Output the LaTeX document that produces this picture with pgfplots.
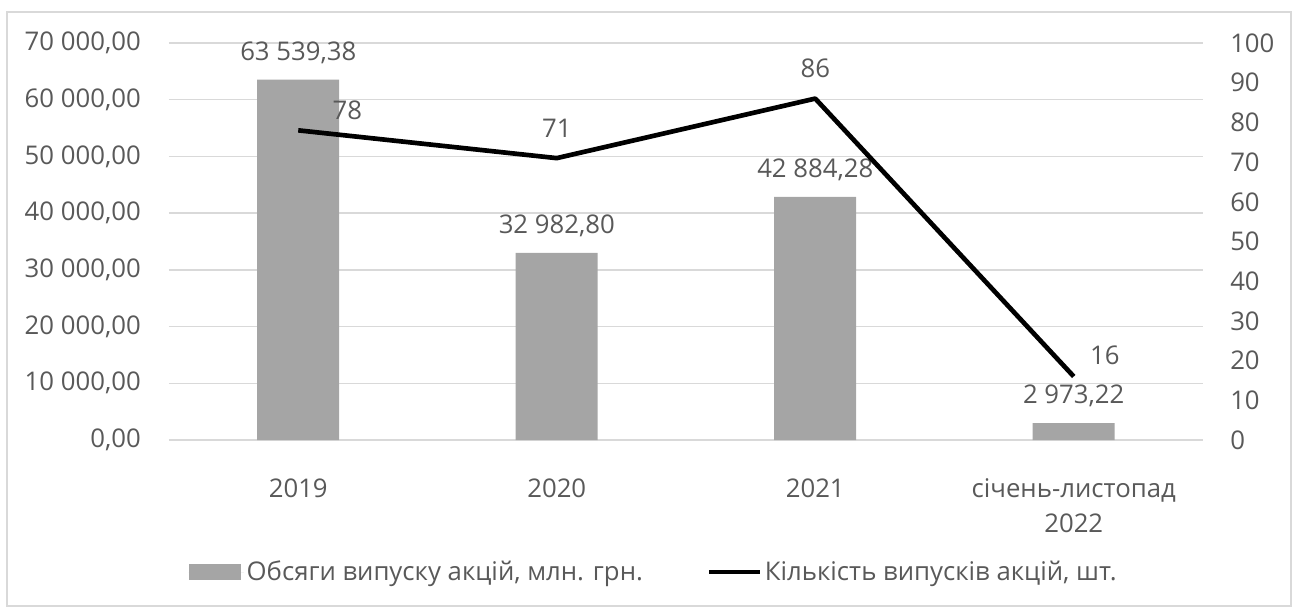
\documentclass[border=0pt]{standalone}
\usepackage{fontspec}
\setmainfont{Open Sans}
\usepackage{pgfplots}
\pgfplotsset{compat=1.18}
\definecolor{bargray}{HTML}{A5A5A5}
\definecolor{gridgray}{HTML}{D9D9D9}
\definecolor{txt}{HTML}{595959}
\newcommand\fs{\fontsize{19.3}{26.25}\selectfont}

% shared frame: 1 px of the reference = 0.75pt
\pgfplotsset{
  common/.style={
    width=775.5pt, height=297.75pt, scale only axis,
    xmin=-0.5, xmax=3.5, enlarge x limits=false,
    axis line style={draw=none},
    major tick style={draw=none}, minor tick style={draw=none},
    tick label style={font=\fs, text=txt, inner sep=0pt},
    /pgf/number format/assume math mode=true,
  },
}

\begin{document}
\begin{tikzpicture}[font=\fs]
\useasboundingbox (-126.75pt,-126pt) rectangle (846pt,330pt);

\begin{axis}[common,
    ymin=0, ymax=70000, ytick distance=10000, scaled y ticks=false,
    ymajorgrids, grid style={gridgray, line width=1pt},
    yticklabel style={
      /pgf/number format/fixed, /pgf/number format/fixed zerofill,
      /pgf/number format/precision=2, /pgf/number format/use comma,
      /pgf/number format/1000 sep={\ },
      anchor=east, xshift=-21pt},
    xtick={0,1,2,3},
    xticklabels={\strut 2019, \strut 2020, \strut 2021, {\strut січень-листопад\\2022}},
    xticklabel style={anchor=north, yshift=-20pt, align=center},
    ybar, bar width=61.5pt,
    nodes near coords={\pgfmathprintnumber[fixed,fixed zerofill,precision=2,use comma,1000 sep={\ },assume math mode=true]{\pgfplotspointmeta}},
    nodes near coords style={anchor=south, inner sep=0pt, yshift=12pt, text=txt, font=\fs},
    legend columns=2,
    legend style={at={(axis description cs:0.469,-0.3325)}, anchor=center,
      draw=none, fill=none, font=\fs, text=txt,
      /tikz/every even column/.append style={column sep=46pt}},
]
\addplot[fill=bargray, draw=none,
  legend image code/.code={\fill[bargray] (0pt,-6pt) rectangle (39pt,6pt); \path (0pt,0pt) -- (41.5pt,0pt);}]
  coordinates {(0,63539.38) (1,32982.80) (2,42884.28) (3,2973.22)};
\addlegendentry{Обсяги випуску акцій, млн. грн.}
\addlegendimage{legend image code/.code={\draw[black, line width=3.5pt] (0pt,0pt) -- (38pt,0pt);}}
\addlegendentry{Кількість випусків акцій, шт.}
\end{axis}

\begin{axis}[common,
    axis y line*=right, axis x line=none,
    ymin=0, ymax=100, ytick distance=10,
    yticklabel style={anchor=west, xshift=20.25pt},
    nodes near coords style={text=txt, font=\fs, anchor=center},
]
\addplot[black, line width=3.5pt, line join=round, mark=none]
  coordinates {(0,78) (1,71) (2,86) (3,16)};
% data labels of the line
\addplot[draw=none, mark=none, nodes near coords,
  nodes near coords style={xshift=36.75pt, yshift=15pt}]
  coordinates {(0,78)};
\addplot[draw=none, mark=none, nodes near coords,
  nodes near coords style={yshift=22.5pt}]
  coordinates {(1,71) (2,86)};
\addplot[draw=none, mark=none, nodes near coords,
  nodes near coords style={xshift=23.25pt, yshift=15.75pt}]
  coordinates {(3,16)};
\end{axis}

\draw[gridgray, line width=1.1pt] (-121.5pt,-124.5pt) rectangle (841.5pt,321pt);
\end{tikzpicture}
\end{document}
